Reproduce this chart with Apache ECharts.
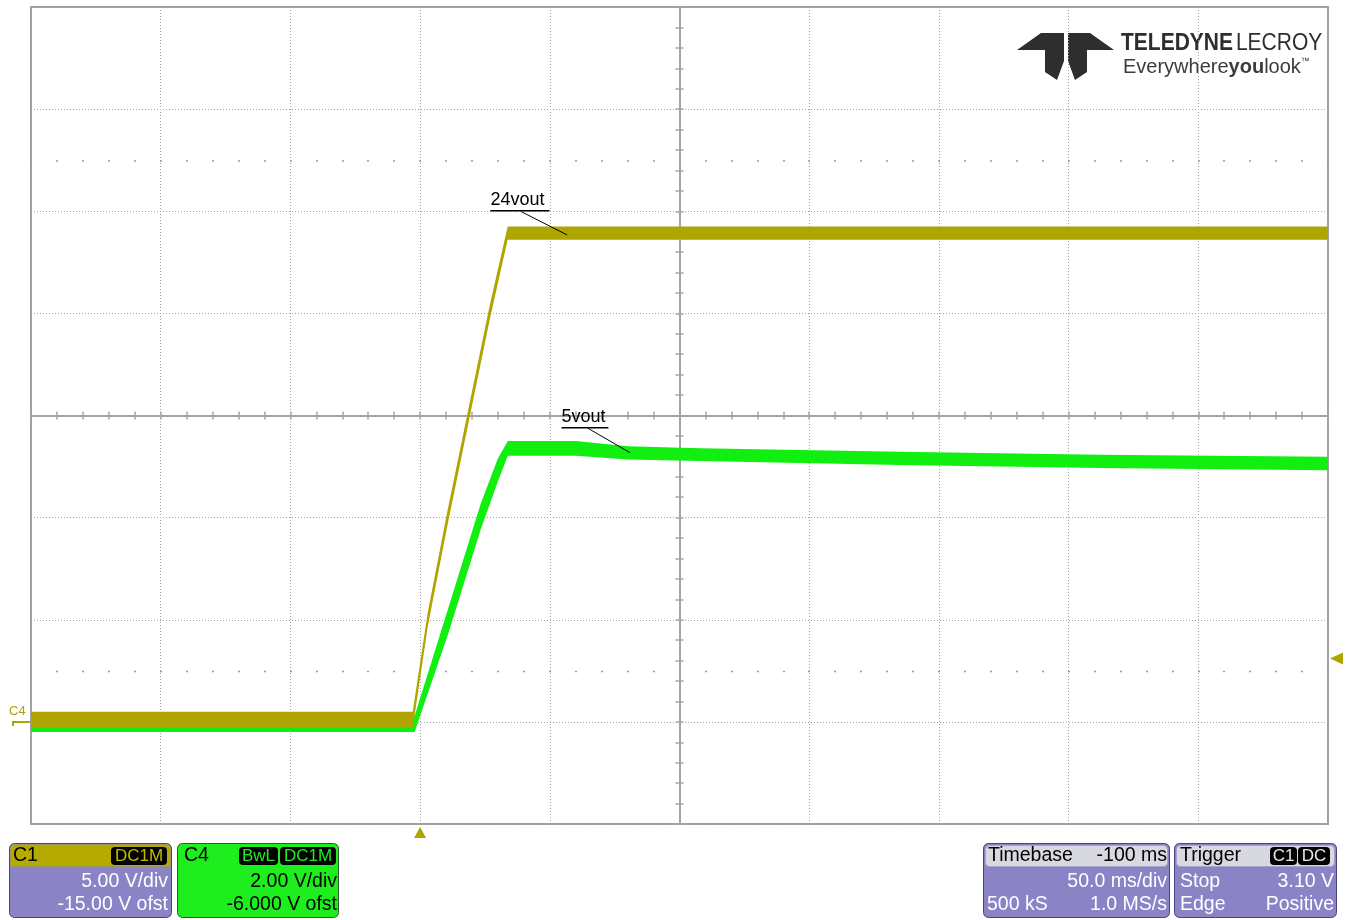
<!DOCTYPE html>
<html>
<head>
<meta charset="utf-8">
<script src="https://cdn.jsdelivr.net/npm/echarts@6/dist/echarts.min.js"></script>
<style>
  html, body { margin: 0; padding: 0; background: #ffffff; }
  #chart { width: 1348px; height: 920px; }
</style>
</head>
<body>
<div id="chart"></div>
<script>
// ---- Acquisition data: time (ms from trigger) and trace envelope (V) ----
// C1 "24vout", 5 V/div, -15 V offset
const c1Time = [-150, -100, -50, -10, -2.85, 2.93, 10.63, 18.72, 26.81, 33.75, 60, 120, 200, 280, 350];
const c1Low  = [-0.3, -0.3, -0.3, -0.3, -0.3, 4.64, 9.68, 14.68, 19.67, 23.6, 23.6, 23.6, 23.6, 23.6, 23.6];
const c1High = [0.5, 0.5, 0.5, 0.5, 0.5, 5.34, 10.38, 15.38, 20.37, 24.25, 24.25, 24.25, 24.25, 24.25, 24.25];

// C4 "5vout", 2 V/div, -6 V offset
const c4Time = [-150, -100, -50, -10, -2.1, 11.0, 23.3, 29.9, 33.8, 60, 80, 108, 185, 262, 350];
const c4Low  = [-0.2, -0.2, -0.2, -0.2, -0.2, 1.75, 3.76, 4.7, 5.21, 5.21, 5.14, 5.11, 5.03, 4.97, 4.93];
const c4High = [0.12, 0.12, 0.12, 0.12, 0.12, 2.25, 4.26, 5.15, 5.5, 5.5, 5.4, 5.36, 5.29, 5.23, 5.19];

// Screen scales
const timeRange = [-150, 350];   // 50 ms/div, 10 div, -100 ms delay
const c1Range = [-5, 35];        // 5 V/div, centre at +15 V
const c4Range = [-2, 14];        // 2 V/div, centre at +6 V
const timePerDiv = 50;
const c1PerDiv = 5;
const c4PerDiv = 2;

// Trigger settings
const triggerTime = 0;
const triggerLevel = 3.10;

// Trace labels: text, underline start/end time, level, leader start/end [t, V]
const labelNames = ['24vout', '5vout'];
const labelChannel = [1, 4];
const labelLineFrom = [27.1, 54.5];
const labelLineTo = [49.9, 72.6];
const labelLevel = [25.03, 5.76];
const leaderStart = [[39.0, 24.98], [64.7, 5.75]];
const leaderEnd = [[56.7, 23.84], [81.0, 5.27]];

// Descriptor boxes
const c1Info = ['C1', 'DC1M', '5.00 V/div', '-15.00 V ofst'];
const c4Info = ['C4', 'BwL', 'DC1M', '2.00 V/div', '-6.000 V ofst'];
const tbInfo = ['Timebase', '-100 ms', '50.0 ms/div', '500 kS', '1.0 MS/s'];
const trigInfo = ['Trigger', 'C1', 'DC', 'Stop', '3.10 V', 'Edge', 'Positive'];

const OLIVE = '#afa500';
const GREEN = '#10ef10';
const GRID = '#a4a4a4';
const FONT = "'Liberation Sans', Arial, sans-serif";

const dotted = { color: GRID, width: 1, type: [1, 2] };
const hidden = { axisLine: { show: false }, axisTick: { show: false }, axisLabel: { show: false }, splitLine: { show: false } };

function divX(extra) {
  return Object.assign({ type: 'value', min: -5, max: 5, interval: 0.2, axisLabel: { show: false }, splitLine: { show: false } }, extra);
}
function divY(extra) {
  return Object.assign({ type: 'value', min: -4, max: 4, interval: 0.2, axisLabel: { show: false }, splitLine: { show: false } }, extra);
}
const crossLine = { color: GRID, width: 2 };
const crossTick = { show: true, length: 4, lineStyle: { color: GRID, width: 1.5 } };
const dotTick = { show: true, length: 1.5, lineStyle: { color: '#9a9a9a', width: 2 } };

// Trace drawn as a filled envelope (high edge forward, low edge back)
function bandSeries(name, yIdx, t, lo, hi, color) {
  return {
    name: name, type: 'custom', coordinateSystem: 'cartesian2d', xAxisIndex: 0, yAxisIndex: yIdx,
    data: t.map((x, i) => [x, lo[i], hi[i]]),
    encode: { x: 0, y: [1, 2] },
    silent: true, clip: true,
    renderItem: function (params, api) {
      if (params.dataIndex !== 0) return null;
      const pts = [];
      for (let i = 0; i < t.length; i++) pts.push(api.coord([t[i], hi[i]]));
      for (let i = t.length - 1; i >= 0; i--) pts.push(api.coord([t[i], lo[i]]));
      return { type: 'polygon', shape: { points: pts }, style: { fill: color } };
    }
  };
}

const chart = echarts.init(document.getElementById('chart'));

chart.setOption({
  animation: false,
  backgroundColor: '#ffffff',
  grid: {
    left: 31, top: 7, width: 1297, height: 817,
    show: true, borderColor: '#a0a0a0', borderWidth: 2, backgroundColor: 'transparent',
    containLabel: false, outerBoundsMode: 'none'
  },
  xAxis: [
    Object.assign({ type: 'value', min: timeRange[0], max: timeRange[1], interval: timePerDiv }, hidden,
      { splitLine: { show: true, lineStyle: dotted } }),
    divX({ position: 'bottom', axisLine: { show: true, onZero: true, onZeroAxisIndex: 2, lineStyle: crossLine }, axisTick: crossTick }),
    divX({ position: 'top', axisLine: { show: true, onZero: true, onZeroAxisIndex: 2, lineStyle: crossLine }, axisTick: crossTick }),
    divX({ position: 'bottom', axisLine: { show: false, onZero: true, onZeroAxisIndex: 4 }, axisTick: dotTick }),
    divX({ position: 'bottom', axisLine: { show: false, onZero: true, onZeroAxisIndex: 5 }, axisTick: dotTick })
  ],
  yAxis: [
    Object.assign({ type: 'value', min: c1Range[0], max: c1Range[1], interval: c1PerDiv }, hidden,
      { splitLine: { show: true, lineStyle: dotted } }),
    Object.assign({ type: 'value', min: c4Range[0], max: c4Range[1], interval: c4PerDiv }, hidden),
    divY({ position: 'left', axisLine: { show: true, onZero: true, onZeroAxisIndex: 1, lineStyle: crossLine }, axisTick: crossTick }),
    divY({ position: 'right', axisLine: { show: true, onZero: true, onZeroAxisIndex: 1, lineStyle: crossLine }, axisTick: crossTick }),
    Object.assign({ type: 'value', min: -6.5, max: 1.5 }, hidden),
    Object.assign({ type: 'value', min: -1.5, max: 6.5 }, hidden)
  ],
  series: [
    bandSeries('C4', 1, c4Time, c4Low, c4High, GREEN),
    bandSeries('C1', 0, c1Time, c1Low, c1High, OLIVE)
  ]
});

// ---- Overlay graphics: logo, labels, markers, descriptor boxes ----
const px = (ch, t, v) => chart.convertToPixel({ xAxisIndex: 0, yAxisIndex: ch === 1 ? 0 : 1 }, [t, v]);

const g = [];
const TOP = 10;

// Logo (sits beneath the graticule)
const logoFill = '#2e2e2e';
g.push({ type: 'polygon', z: -1, shape: { points: [[1017, 50], [1041, 33], [1064, 33], [1064, 61], [1057, 80], [1045, 72], [1045, 50]] }, style: { fill: logoFill } });
g.push({ type: 'polygon', z: -1, shape: { points: [[1068, 33], [1090, 33], [1114, 50], [1087, 50], [1087, 72], [1075, 80], [1068, 61]] }, style: { fill: logoFill } });
g.push({ type: 'text', z: -1, x: 1121, y: 43, scaleX: 0.875, style: {
  text: '{b|TELEDYNE} {n|LECROY}', verticalAlign: 'middle',
  rich: {
    b: { fontFamily: FONT, fontWeight: 'bold', fontSize: 24, fill: logoFill },
    n: { fontFamily: FONT, fontSize: 24, fill: logoFill }
  }
} });
g.push({ type: 'text', z: -1, x: 1123, y: 67, style: {
  text: '{n|Everywhere}{b|you}{n|look}{s|™}', verticalAlign: 'middle',
  rich: {
    n: { fontFamily: FONT, fontSize: 20, fill: '#3c3c3c' },
    b: { fontFamily: FONT, fontSize: 20, fontWeight: 'bold', fill: '#3c3c3c' },
    s: { fontFamily: FONT, fontSize: 9, fill: '#3c3c3c', verticalAlign: 'top', padding: [0, 0, 10, 0] }
  }
} });

// Trace labels with underline and leader
labelNames.forEach((name, i) => {
  const ch = labelChannel[i];
  const a = px(ch, labelLineFrom[i], labelLevel[i]);
  const b = px(ch, labelLineTo[i], labelLevel[i]);
  const s = px(ch, leaderStart[i][0], leaderStart[i][1]);
  const e = px(ch, leaderEnd[i][0], leaderEnd[i][1]);
  g.push({ type: 'line', z: TOP, shape: { x1: a[0], y1: a[1], x2: b[0], y2: b[1] }, style: { stroke: '#000', lineWidth: 1.5 } });
  g.push({ type: 'line', z: TOP, shape: { x1: s[0], y1: s[1], x2: e[0], y2: e[1] }, style: { stroke: '#000', lineWidth: 1 } });
  g.push({ type: 'text', z: TOP, x: a[0], y: a[1] - 2, style: { text: name, font: '18px ' + FONT, fill: '#000', align: 'left', verticalAlign: 'bottom' } });
});

// Trigger time marker (bottom) and trigger level marker (right)
const tp = px(1, triggerTime, 0);
g.push({ type: 'polygon', z: TOP, shape: { points: [[tp[0] - 6, 838], [tp[0] + 6, 838], [tp[0], 827]] }, style: { fill: OLIVE } });
const lp = px(1, 0, triggerLevel);
g.push({ type: 'polygon', z: TOP, shape: { points: [[1330, lp[1]], [1343, lp[1] - 6], [1343, lp[1] + 6]] }, style: { fill: OLIVE } });

// C4 ground reference marker (left)
const gp = px(4, 0, 0);
g.push({ type: 'polyline', z: TOP, shape: { points: [[13, gp[1] + 4], [13, gp[1]], [30, gp[1]]] }, style: { stroke: OLIVE, lineWidth: 2, fill: null } });
g.push({ type: 'text', z: TOP, x: 9, y: gp[1] - 4, style: { text: 'C4', font: '13px ' + FONT, fill: OLIVE, align: 'left', verticalAlign: 'bottom' } });

// Descriptor boxes
const PURPLE = '#8a83c6';
const BORDER = '#4a4282';
const txt = (x, y, s, fill, align, size) => ({ type: 'text', z: TOP, x, y, style: { text: s, font: (size || 19.5) + 'px ' + FONT, fill, align, verticalAlign: 'middle' } });
const box = (x, y, w, h, r, fill, stroke) => ({ type: 'rect', z: TOP, shape: { x, y, width: w, height: h, r }, style: { fill, stroke: stroke || null, lineWidth: 1 } });
const badge = (x, w, s, bg, fg) => [
  box(x, 847, w, 18, 4, bg),
  txt(x + w / 2, 856.5, s, fg, 'center', 17)
];

// C1
g.push(box(9.5, 843.5, 162, 74, 5, PURPLE, BORDER));
g.push(box(10.5, 844.5, 160, 22, [4, 4, 0, 0], '#b4aa00'));
g.push(txt(13, 856, c1Info[0], '#000', 'left'));
g.push(...badge(111, 56, c1Info[1], '#000', '#c4ba00'));
g.push(txt(168, 882, c1Info[2], '#fff', 'right'));
g.push(txt(168, 905, c1Info[3], '#fff', 'right'));

// C4
g.push(box(177.5, 843.5, 161, 74, 5, '#1eee1e', '#2f5a2f'));
g.push(txt(184, 856, c4Info[0], '#000', 'left'));
g.push(...badge(239, 39, c4Info[1], '#000', '#1eee1e'));
g.push(...badge(280, 56, c4Info[2], '#000', '#1eee1e'));
g.push(txt(337, 882, c4Info[3], '#000', 'right'));
g.push(txt(337, 905, c4Info[4], '#000', 'right'));

// Timebase
g.push(box(983.5, 843.5, 186, 74, 5, PURPLE, BORDER));
g.push(box(985.5, 845.5, 182, 21, 4, '#d8d8e0', '#a8a4c8'));
g.push(txt(988, 856, tbInfo[0], '#000', 'left'));
g.push(txt(1167, 856, tbInfo[1], '#000', 'right'));
g.push(txt(1167, 882, tbInfo[2], '#fff', 'right'));
g.push(txt(987, 905, tbInfo[3], '#fff', 'left'));
g.push(txt(1167, 905, tbInfo[4], '#fff', 'right'));

// Trigger
g.push(box(1174.5, 843.5, 162, 74, 5, PURPLE, BORDER));
g.push(box(1176.5, 845.5, 158, 21, 4, '#d8d8e0', '#a8a4c8'));
g.push(txt(1180, 856, trigInfo[0], '#000', 'left'));
g.push(...badge(1270, 27, trigInfo[1], '#000', '#e8e8e8'));
g.push(...badge(1298, 32, trigInfo[2], '#000', '#e8e8e8'));
g.push(txt(1180, 882, trigInfo[3], '#fff', 'left'));
g.push(txt(1334, 882, trigInfo[4], '#fff', 'right'));
g.push(txt(1180, 905, trigInfo[5], '#fff', 'left'));
g.push(txt(1334, 905, trigInfo[6], '#fff', 'right'));

chart.setOption({ graphic: { elements: g } });
</script>
</body>
</html>
